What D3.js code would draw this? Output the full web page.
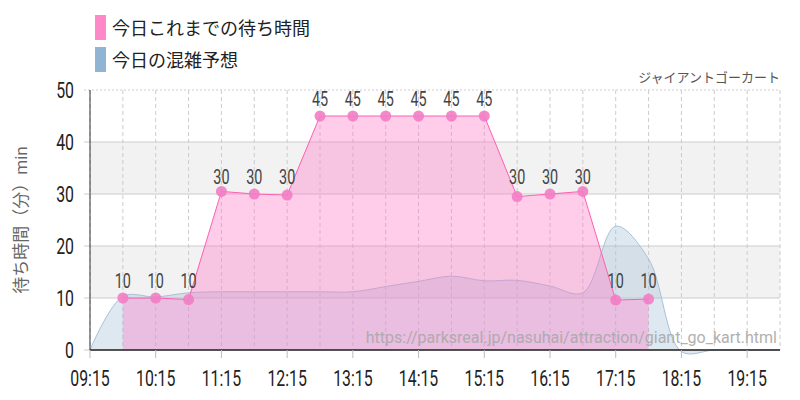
<!DOCTYPE html><html><head><meta charset="utf-8"><script src="https://cdn.jsdelivr.net/npm/d3@7"></script>
<style>body{margin:0;background:#fff}text{font-family:Roboto,"Noto Sans CJK JP",sans-serif}</style></head><body><svg id="c" width="800" height="400"></svg>
<script>
const waitTimes=["09:45","10:15","10:45","11:15","11:45","12:15","12:45","13:15","13:45","14:15","14:45","15:15","15:45","16:15","16:45","17:15","17:45"];
const waitValues=[10,10,9.7,30.5,30,29.8,45,45,45,45,45,45,29.5,30,30.5,9.6,9.8];
const waitLabels=[10,10,10,30,30,30,45,45,45,45,45,45,30,30,30,10,10];
const fcTimes=["09:15","09:45","10:15","10:45","11:15","11:45","12:15","12:45","13:15","13:45","14:15","14:45","15:15","15:45","16:15","16:45","17:15","17:45","18:15","18:45","19:15","19:45"];
const fcValues=[0,10.3,10.2,11,11.2,11.2,11.2,11.2,11.2,12.2,13.2,14.2,13.3,13.4,12.3,11,23.8,17.5,-0.3,0,0,0];
const xTicks=["09:15","10:15","11:15","12:15","13:15","14:15","15:15","16:15","17:15","18:15","19:15"];
const yTicks=[0,10,20,30,40,50];
const tp=d3.timeParse("%H:%M");
const svg=d3.select("#c");
const x=d3.scaleTime().domain([tp("09:15"),tp("19:45")]).range([90,780]);
const y=d3.scaleLinear().domain([0,50]).range([350,90]);
[[10,20],[30,40]].forEach(b=>svg.append("rect").attr("x",90).attr("width",690).attr("y",y(b[1])).attr("height",y(b[0])-y(b[1])).attr("fill","#f2f2f2"));
yTicks.forEach(v=>svg.append("line").attr("x1",84).attr("x2",780).attr("y1",y(v)).attr("y2",y(v)).attr("stroke","#ccc").attr("stroke-dasharray",v==50?"2,2":null));
fcTimes.forEach(t=>svg.append("line").attr("x1",x(tp(t))).attr("x2",x(tp(t))).attr("y1",90).attr("y2",350).attr("stroke","#ccc").attr("stroke-dasharray","4,3"));
const fc=fcTimes.map((t,i)=>[x(tp(t)),y(fcValues[i])]);
svg.append("path").attr("d",d3.area().x(d=>d[0]).y0(350).y1(d=>d[1]).curve(d3.curveCatmullRom)(fc)).attr("fill","rgba(160,190,215,0.35)");
svg.append("path").attr("d",d3.line().curve(d3.curveCatmullRom)(fc)).attr("fill","none").attr("stroke","#a9c0d6").attr("stroke-width",1);
const wt=waitTimes.map((t,i)=>[x(tp(t)),y(waitValues[i])]);
svg.append("path").attr("d",d3.area().x(d=>d[0]).y0(350).y1(d=>d[1])(wt)).attr("fill","rgba(255,120,200,0.38)");
svg.append("path").attr("d",d3.line()(wt)).attr("fill","none").attr("stroke","#ff5fb0").attr("stroke-width",1);
wt.forEach((d,i)=>{svg.append("circle").attr("cx",d[0]).attr("cy",d[1]).attr("r",5.5).attr("fill","#f27dc4").attr("opacity",0.9);
svg.append("text").attr("x",d[0]).attr("y",y(waitLabels[i])-10).attr("text-anchor","middle").attr("font-size",20).attr("fill","#444").attr("transform",`translate(${d[0]},0) scale(0.72,1) translate(${-d[0]},0)`).text(waitLabels[i]);});
svg.append("line").attr("x1",90).attr("x2",90).attr("y1",90).attr("y2",350).attr("stroke","#333");
svg.append("line").attr("x1",90).attr("x2",780).attr("y1",350).attr("y2",350).attr("stroke","#222").attr("stroke-width",1.5);
xTicks.forEach(t=>{const xx=x(tp(t));svg.append("line").attr("x1",xx).attr("x2",xx).attr("y1",350).attr("y2",358).attr("stroke","#bbb");
svg.append("text").attr("x",xx).attr("y",386).attr("text-anchor","middle").attr("font-size",22).attr("fill","#222").attr("transform",`translate(${xx},0) scale(0.72,1) translate(${-xx},0)`).text(t);});
yTicks.forEach(v=>svg.append("text").attr("x",74).attr("y",y(v)+8).attr("text-anchor","end").attr("font-size",22).attr("fill","#222").attr("transform",`translate(74,0) scale(0.72,1) translate(-74,0)`).text(v));
svg.append("text").attr("transform","translate(27,220) rotate(-90)").attr("text-anchor","middle").attr("font-size",17).attr("fill","#666").text("待ち時間（分）min");
svg.append("text").attr("x",780).attr("y",82).attr("text-anchor","end").attr("font-size",13).attr("fill","#555").text("ジャイアントゴーカート");
svg.append("text").attr("x",777).attr("y",343).attr("text-anchor","end").attr("font-size",16).attr("fill","#a9a9a9").attr("opacity",0.9).text("https://parksreal.jp/nasuhai/attraction/giant_go_kart.html");
[["今日これまでの待ち時間","#ff88c8"],["今日の混雑予想","#91b4d2"]].forEach((l,i)=>{svg.append("rect").attr("x",95).attr("y",15+i*32).attr("width",11).attr("height",25).attr("fill",l[1]);
svg.append("text").attr("x",112).attr("y",35+i*32).attr("font-size",18).attr("fill","#222").text(l[0]);});
</script></body></html>
